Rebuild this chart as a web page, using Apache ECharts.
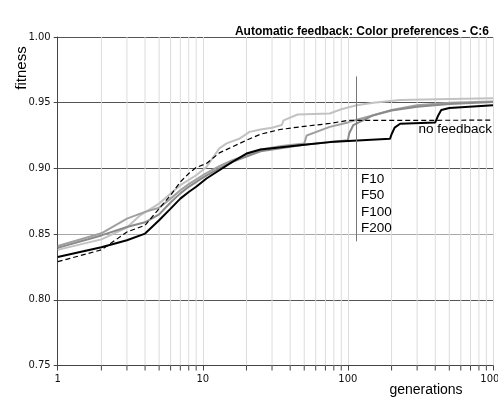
<!DOCTYPE html>
<html>
<head>
<meta charset="utf-8">
<script src="https://cdn.jsdelivr.net/npm/echarts@6/dist/echarts.min.js"></script>
<style>
  html, body { margin: 0; padding: 0; background: #fff; }
  #chart { width: 498px; height: 398px; }
</style>
</head>
<body>
<div id="chart"></div>
<script>
// fitness vs generations, [generation, fitness]
const f10 = [[1,0.838],[2,0.846],[3,0.855],[3.7,0.8643],[5,0.8732],[6,0.8809],[7,0.8872],[9,0.8948],[10.6,0.9011],[13,0.9152],[14.6,0.919],[18,0.9228],[21,0.9278],[25,0.9296],[30,0.931],[35,0.933],[36,0.9365],[45,0.941],[75,0.9418],[90,0.945],[115,0.948],[150,0.950],[230,0.952],[500,0.9528],[1000,0.9533]];
const f50 = [[1,0.841],[2,0.8506],[3,0.8618],[4,0.8669],[5,0.8700],[6,0.8770],[7,0.8834],[8,0.888],[10,0.8948],[13,0.9017],[16,0.9062],[20,0.910],[25,0.9144],[35,0.917],[50,0.919],[52,0.925],[75,0.9316],[100,0.935],[115,0.937],[150,0.9405],[200,0.9445],[300,0.948],[500,0.950],[1000,0.951]];
const f100 = [[1,0.8395],[2,0.849],[3,0.8554],[4,0.8590],[5,0.8650],[6,0.874],[7,0.881],[8,0.886],[10,0.893],[13,0.900],[16,0.905],[20,0.909],[25,0.913],[50,0.918],[100,0.9215],[102,0.9266],[109,0.933],[150,0.9405],[200,0.944],[300,0.947],[500,0.949],[1000,0.9505]];
const f200 = [[1,0.8326],[2,0.840],[3,0.8453],[4,0.8504],[5,0.8605],[6,0.8694],[7,0.877],[8,0.882],[9,0.886],[10.6,0.8923],[13,0.8986],[16,0.905],[20,0.9113],[25,0.9144],[50,0.918],[75,0.920],[195,0.9225],[200,0.926],[210,0.931],[229,0.934],[400,0.935],[420,0.9405],[440,0.9444],[500,0.946],[1000,0.948]];
const noFeedback = [[1,0.829],[2,0.838],[3,0.8516],[4,0.8567],[5,0.8694],[6,0.8796],[7,0.8897],[8,0.8961],[9,0.9007],[10.6,0.9037],[13,0.9118],[16,0.9164],[20,0.9215],[25,0.926],[34,0.9296],[50,0.932],[75,0.9342],[100,0.9365],[1000,0.9367]];

const minorGens = [2,3,4,5,6,7,8,9,20,30,40,50,60,70,80,90,200,300,400,500,600,700,800,900];
const markerGen = 115;
const markerRange = [0.8445, 0.970];
const labelFont = '"DejaVu Sans", sans-serif';

const myChart = echarts.init(document.getElementById('chart'));

function lineSeries(name, data, color, width, type) {
  return {
    name: name,
    type: 'line',
    data: data,
    showSymbol: false,
    symbol: 'none',
    z: 3,
    lineStyle: { color: color, width: width, type: type || 'solid' }
  };
}

myChart.setOption({
  animation: false,
  backgroundColor: '#fff',
  grid: { left: 57.7, right: 5, top: 37, bottom: 32.5, outerBoundsMode: 'none', containLabel: false },
  title: {
    text: 'Automatic feedback: Color preferences - C:6',
    right: 4,
    top: 21,
    textStyle: { fontSize: 12, fontWeight: 'bold', color: '#000', fontFamily: 'Liberation Sans, Arial' }
  },
  xAxis: {
    type: 'log',
    logBase: 10,
    min: 1,
    max: 1000,
    axisLine: { show: true, lineStyle: { color: '#444', width: 1 } },
    axisTick: { show: true, length: 5, lineStyle: { color: '#444' } },
    axisLabel: { color: '#111', fontSize: 10, margin: 9, fontFamily: labelFont, formatter: v => String(Math.round(v)) },
    splitLine: { show: true, lineStyle: { color: '#dcdcdc', width: 1 } }
  },
  yAxis: {
    type: 'value',
    min: 0.75,
    max: 1.0,
    interval: 0.05,
    axisLine: { show: true, lineStyle: { color: '#444', width: 1 } },
    axisTick: { show: true, length: 4, lineStyle: { color: '#444' } },
    axisLabel: {
      color: '#111', fontSize: 10, margin: 7, fontFamily: labelFont,
      formatter: v => v.toFixed(2)
    },
    splitLine: { show: true, lineStyle: { color: ['#555', '#555', '#a8a8a8', '#555', '#555', '#555'], width: 1 } }
  },
  graphic: [
    { type: 'text', x: 22, y: 68, rotation: Math.PI / 2,
      style: { text: 'fitness', font: '15px "Liberation Sans", Arial', fill: '#000', align: 'center', verticalAlign: 'middle' } },
    { type: 'text', x: 426, y: 390,
      style: { text: 'generations', font: '14px "Liberation Sans", Arial', fill: '#000', align: 'center', verticalAlign: 'middle' } },
    { type: 'text', x: 492, y: 129, z: 10,
      style: { text: 'no feedback', font: '13.5px "Liberation Sans", Arial', fill: '#000', align: 'right', verticalAlign: 'middle' } },
    { type: 'text', x: 361, y: 171, z: 10,
      style: { text: 'F10\nF50\nF100\nF200', font: '13.5px "Liberation Sans", Arial', lineHeight: 16.5, fill: '#000', align: 'left', verticalAlign: 'top' } }
  ],
  series: [
    {
      type: 'custom',
      z: 1,
      silent: true,
      clip: false,
      data: minorGens.map(g => [g]),
      encode: { x: 0 },
      renderItem: (params, api) => {
        const g = api.value(0);
        const top = api.coord([g, 1.0]);
        const bot = api.coord([g, 0.75]);
        return {
          type: 'group',
          children: [
            { type: 'line', shape: { x1: top[0], y1: top[1], x2: bot[0], y2: bot[1] },
              style: { stroke: '#dcdcdc', lineWidth: 1 } },
            { type: 'line', shape: { x1: bot[0], y1: bot[1], x2: bot[0], y2: bot[1] + 5 },
              style: { stroke: '#444', lineWidth: 1 } }
          ]
        };
      }
    },
    lineSeries('F10', f10, '#c2c2c2', 2),
    lineSeries('F50', f50, '#a0a0a0', 2),
    lineSeries('F100', f100, '#8a8a8a', 2),
    lineSeries('no feedback', noFeedback, '#000', 1.2, [5, 3]),
    Object.assign(lineSeries('F200', f200, '#000', 2), {
      markLine: {
        silent: true,
        symbol: 'none',
        label: { show: false },
        lineStyle: { color: '#777', width: 1, type: 'solid' },
        data: [[{ coord: [markerGen, markerRange[0]] }, { coord: [markerGen, markerRange[1]] }]]
      }
    })
  ]
});
</script>
</body>
</html>
